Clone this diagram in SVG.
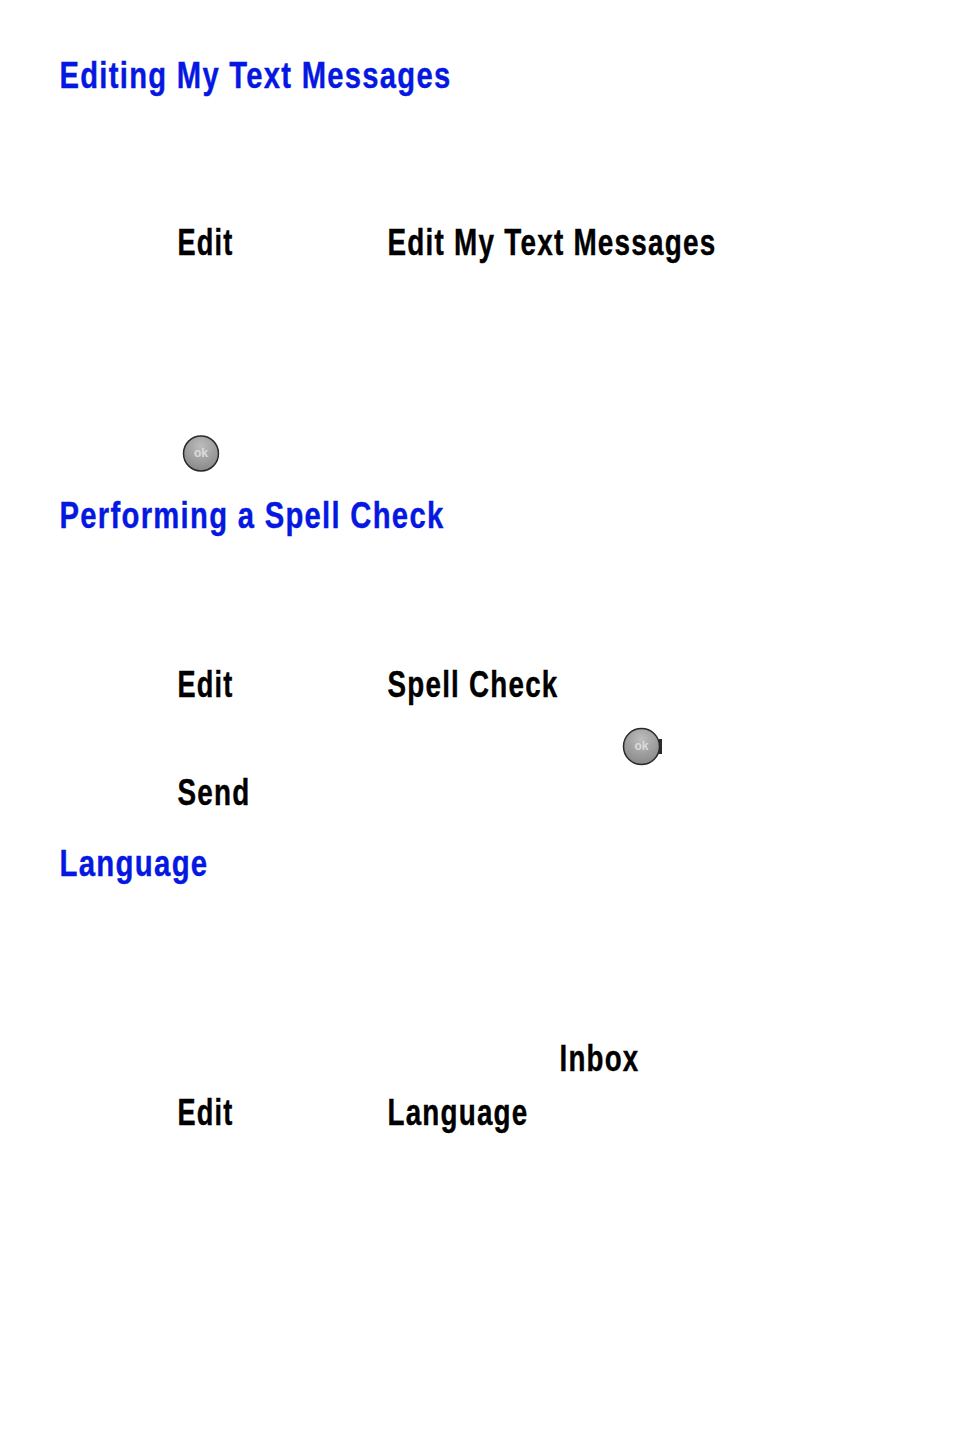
<svg xmlns="http://www.w3.org/2000/svg" width="954" height="1433" viewBox="0 0 954 1433">
<style>
text{font-family:"Liberation Sans Narrow","Liberation Sans",Arial,sans-serif;font-weight:700;font-size:36px;letter-spacing:1.6px;stroke-width:.4px}
.h{fill:#0518e2;stroke:#0518e2}
.b{fill:#000;stroke:#000}
.ok{font-size:12px;fill:#dcdcdc;stroke:none;text-anchor:middle;letter-spacing:0;font-family:"Liberation Sans",Arial,sans-serif}
</style>
<defs>
<radialGradient id="g" cx="50%" cy="30%" r="75%"><stop offset="0" stop-color="#bdbdbd"/><stop offset="1" stop-color="#858585"/></radialGradient>
<clipPath id="c1"><rect x="180" y="432" width="39.500" height="42"/></clipPath>
<clipPath id="c2"><rect x="620" y="725" width="41" height="42"/></clipPath>
</defs>
<rect width="954" height="1433" fill="#fff"/>
<text class="h" x="59.500" y="88" textLength="392" lengthAdjust="spacingAndGlyphs">Editing My Text Messages</text>
<text class="b" x="177.500" y="255" textLength="56" lengthAdjust="spacingAndGlyphs">Edit</text>
<text class="b" x="387.500" y="255" textLength="329" lengthAdjust="spacingAndGlyphs">Edit My Text Messages</text>
<g id="ok1" clip-path="url(#c1)"><circle cx="201" cy="453.500" r="17.500" fill="url(#g)" stroke="#2a2a2a" stroke-width="1.500"/><text class="ok" x="201" y="457">ok</text></g>
<text class="h" x="59.500" y="528" textLength="385" lengthAdjust="spacingAndGlyphs">Performing a Spell Check</text>
<text class="b" x="177.500" y="697" textLength="56" lengthAdjust="spacingAndGlyphs">Edit</text>
<text class="b" x="387.500" y="697" textLength="171" lengthAdjust="spacingAndGlyphs">Spell Check</text>
<g id="ok2"><rect x="659" y="739" width="3" height="15" fill="#2a2a2a"/><circle cx="641.500" cy="746.500" r="18" fill="url(#g)" stroke="#2a2a2a" stroke-width="1.500" clip-path="url(#c2)"/><text class="ok" x="641.500" y="750">ok</text></g>
<text class="b" x="177.500" y="805" textLength="73" lengthAdjust="spacingAndGlyphs">Send</text>
<text class="h" x="59.500" y="876" textLength="149" lengthAdjust="spacingAndGlyphs">Language</text>
<text class="b" x="559.500" y="1071" textLength="80" lengthAdjust="spacingAndGlyphs">Inbox</text>
<text class="b" x="177.500" y="1125" textLength="56" lengthAdjust="spacingAndGlyphs">Edit</text>
<text class="b" x="387.500" y="1125" textLength="141" lengthAdjust="spacingAndGlyphs">Language</text>
</svg>
